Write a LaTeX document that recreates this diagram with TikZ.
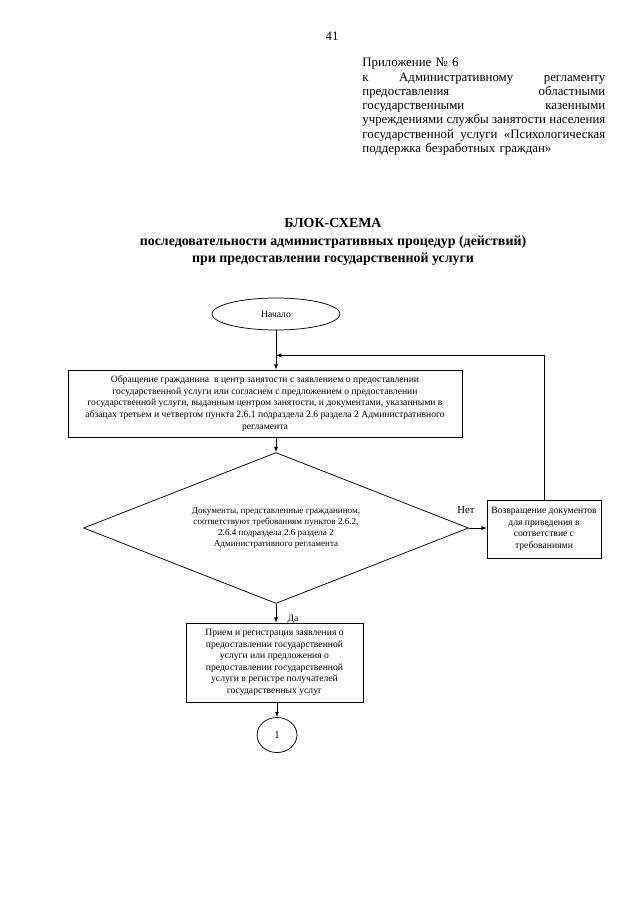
\documentclass[tikz,border=0pt]{standalone}
\usepackage{fontspec}
\setmainfont{Liberation Serif}
\usetikzlibrary{arrows,shapes.geometric,calc}

\begin{document}
\begin{tikzpicture}[x=0.0328cm, y=-0.0328cm, line width=0.7pt,
  box/.style={draw, rectangle, align=center, inner sep=2pt},
  small/.style={font=\fontsize{9}{10.8}\selectfont},
  arr/.style={-latex}]

\useasboundingbox (0,0) rectangle (640,905);

\node (page) at (332,36) {\fontsize{12}{14}\selectfont 41};

\node[anchor=north west, text width=7.97cm, align=left, inner sep=0pt, font=\fontsize{12}{13.3}\selectfont] (annex) at (362,58) {Приложение №~6\\
к\hfill Административному\hfill регламенту\\
предоставления\hfill областными\\
государственными\hfill казенными\\
учреждениями\hfill службы\hfill занятости\hfill населения\\
государственной\hfill услуги\hfill «Психологическая\\
поддержка безработных граждан»};

\node[font=\bfseries\fontsize{13}{16.5}\selectfont, align=center] (title) at (333,242) {БЛОК-СХЕМА\\
последовательности административных процедур (действий)\\
при предоставлении государственной услуги};

\node[ellipse, draw, minimum width=4.2cm, minimum height=1.05cm, small] (start) at (276,314) {Начало};

\node[box, small, minimum width=12.92cm, minimum height=2.2cm] (doc) at (265,403.5) {Обращение гражданина\ \ в центр занятости с заявлением о предоставлении\\
государственной услуги или согласием с предложением о предоставлении\\
государственной услуги, выданным центром занятости, и документами, указанными в\\
абзацах третьем и четвертом пункта 2.6.1 подраздела 2.6 раздела 2 Административного\\
регламента};

\node[diamond, draw, shape aspect=2.55, minimum width=12.63cm, minimum height=4.95cm, align=center, inner sep=0pt, font=\fontsize{8.5}{10}\selectfont] (check) at (276,528) {Документы, представленные гражданином,\\
соответствуют требованиям пунктов 2.6.2,\\
2.6.4 подраздела 2.6 раздела 2\\
Административного регламента};

\node[box, small, minimum width=3.74cm, minimum height=1.9cm] (ret) at (544,529) {Возвращение документов\\
для приведения в\\
соответствие с\\
требованиями};

\node[box, small, minimum width=5.81cm, minimum height=2.59cm] (reg) at (274.5,662.5) {Прием и регистрация заявления о\\
предоставлении государственной\\
услуги или предложения о\\
предоставлении государственной\\
услуги в регистре получателей\\
государственных услуг};

\node[ellipse, draw, minimum width=1.31cm, minimum height=1.15cm, font=\fontsize{10}{12}\selectfont] (one) at (277,735) {1};

\draw[arr] (start.south) -- (start.south |- doc.north);
\draw[arr] (check.north |- doc.south) -- (check.north);
\draw[arr] (check.south) -- (check.south |- reg.north);
\draw[arr] (one.north |- reg.south) -- (one.north);
\draw[arr] (check.east) -- (check.east -| ret.west);

\coordinate (join) at ($(start.south)+(0,25)$);
\draw[arr] (ret.north) |- (join);

\node[font=\fontsize{10}{12}\selectfont] (no) at ($(check.east)+(-3,-18)$) {Нет};
\node[small] (yes) at ($(check.south)+(17,16)$) {Да};

\end{tikzpicture}
\end{document}
